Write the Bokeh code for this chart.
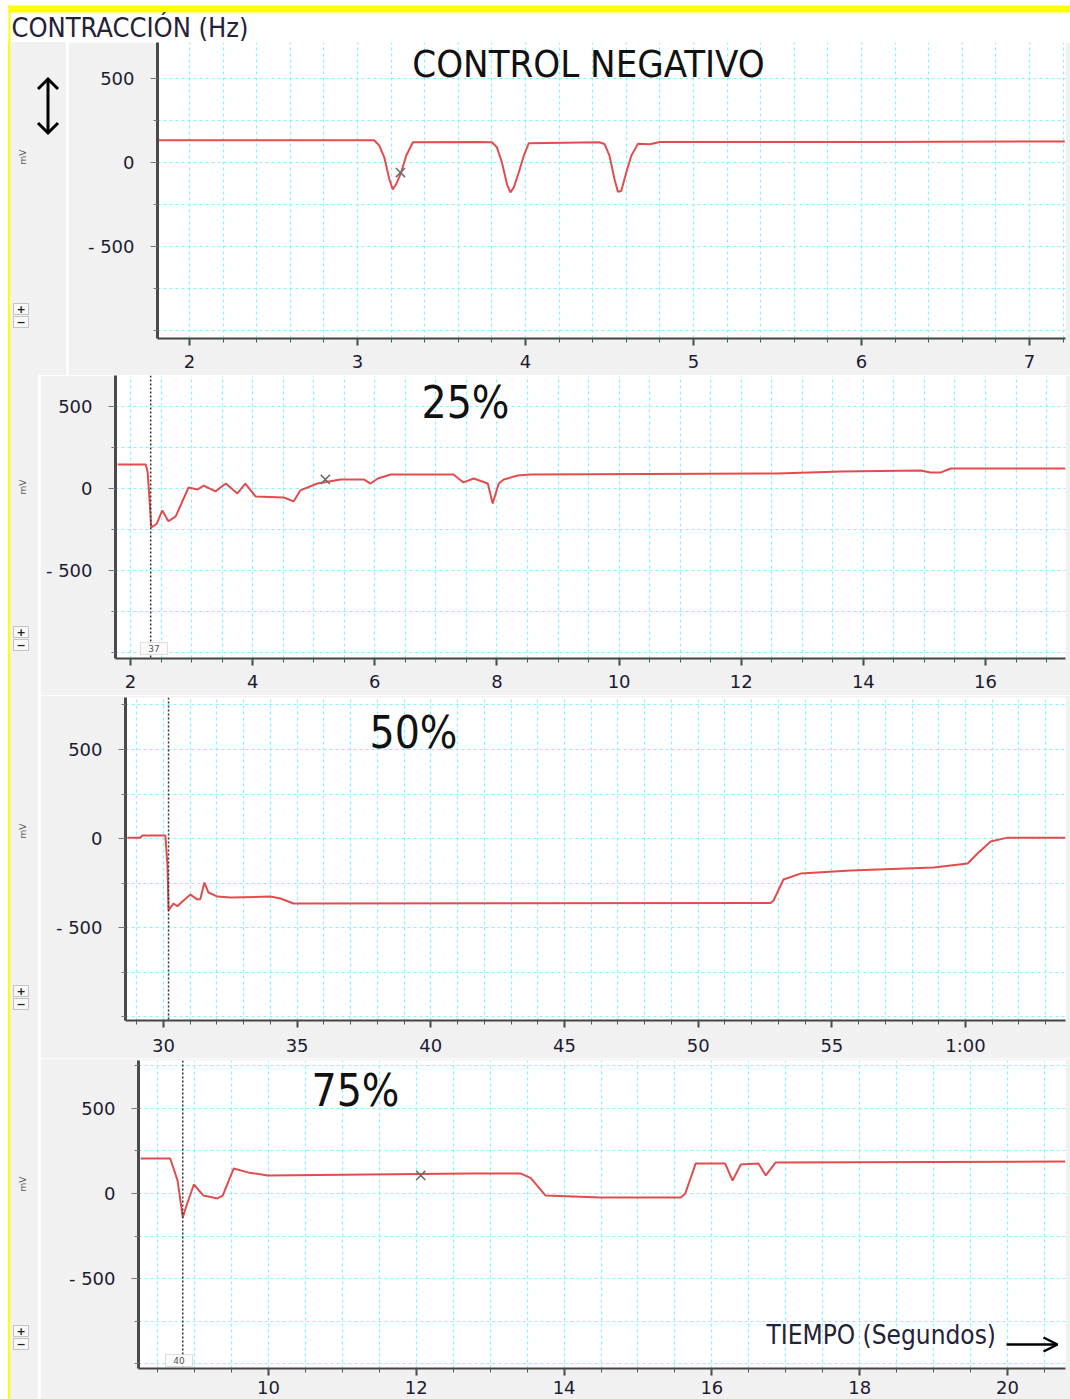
from bokeh.plotting import figure
from bokeh.layouts import column, row
from bokeh.models import (SingleIntervalTicker, FixedTicker, Range1d, BoxAnnotation,
                          Label, Span, Arrow, OpenHead, Div)
from bokeh.embed import file_html
from bokeh.resources import INLINE

# ---------------- data (time in s, signal in mV) ----------------
ctrl_t = [1.81, 3.10, 3.13, 3.16, 3.19, 3.21, 3.23, 3.26, 3.29, 3.33, 3.71, 3.80, 3.83, 3.86,
          3.89, 3.91, 3.93, 3.96, 3.99, 4.02, 4.44, 4.47, 4.50, 4.53, 4.55, 4.57, 4.60, 4.63,
          4.67, 4.74, 4.80, 6.05, 7.21]
ctrl_v = [132, 132, 100, 30, -100, -160, -130, -60, 40, 120, 122, 120, 90, 0,
          -130, -178, -150, -60, 40, 115, 120, 110, 40, -100, -175, -170, -60, 40,
          112, 108, 122, 122, 125]

p25_t = [1.79, 2.25, 2.28, 2.31, 2.34, 2.43, 2.52, 2.62, 2.74, 2.95, 3.10, 3.20, 3.39, 3.56,
         3.75, 3.88, 4.05, 4.51, 4.67, 4.78, 5.06, 5.44, 5.82, 5.93, 6.05, 6.26, 7.29, 7.45,
         7.62, 7.85, 7.93, 8.03, 8.11, 8.34, 8.55, 12.59, 13.63, 14.94, 15.10, 15.26, 15.43, 17.31]
p25_v = [146, 146, 100, -60, -238, -215, -134, -200, -170, 6, -6, 18, -18, 30,
         -30, 30, -49, -55, -79, -12, 30, 55, 55, 30, 61, 85, 85, 37,
         61, 30, -91, 30, 55, 79, 85, 91, 104, 110, 97, 97, 122, 122]

p50_t = [28.65, 29.14, 29.21, 30.07, 30.15, 30.19, 30.37, 30.52, 30.71, 31.01, 31.27, 31.38,
         31.53, 31.68, 32.02, 32.51, 34.00, 34.38, 34.86, 52.71, 52.82, 53.19, 53.83, 55.70,
         58.81, 60.08, 60.45, 60.94, 61.57, 63.74]
p50_v = [5, 5, 17, 17, -150, -404, -365, -380, -354, -315, -343, -340,
         -247, -303, -326, -331, -326, -337, -365, -362, -348, -230, -197, -180,
         -163, -140, -84, -17, 5, 5]

p75_t = [8.27, 8.67, 8.77, 8.84, 8.90, 8.99, 9.12, 9.31, 9.38, 9.53, 9.72, 9.99, 12.73, 13.41,
         13.55, 13.75, 14.49, 15.58, 15.64, 15.78, 16.18, 16.28, 16.39, 16.63, 16.73, 16.86, 20.78]
p75_v = [206, 206, 76, -141, -59, 53, -12, -29, -12, 147, 124, 106, 118, 118,
         90, -12, -24, -24, 0, 176, 176, 76, 170, 176, 106, 182, 188]

marker_t = [3.256, 5.19, None, 12.06]
marker_v = [-60, 55, None, 106]
cursor_t = [None, 2.33, 30.19, 8.84]
cursor_idx = [None, "37", None, "40"]
titles = ["CONTROL NEGATIVO", "25%", "50%", "75%"]
header_text = "CONTRACCI\u00d3N (Hz)"
footer_text = "TIEMPO (Segundos)"
unit_text = "mV"
x_ranges = [(1.81, 7.214), (1.754, 17.31), (28.58, 63.74), (8.241, 20.785)]
y_ranges = [(-1048, 714), (-1037, 689), (-1022, 792), (-1029, 782)]
major_step = [1, 2, 5, 2]
minor_count = [5, 4, 5, 4]
grid_step = [0.2, 0.5, 1.0, 0.5]
series = [(ctrl_t, ctrl_v), (p25_t, p25_v), (p50_t, p50_v), (p75_t, p75_v)]

# ---------------- layout geometry (pixels) ----------------
HEAD_H = 42
geom = [
    dict(H=333, D=68, FL=89, BT=0, BB=37, XS=9, tx=520, ty=21, ts="38px", mv=116, pm=261),
    dict(H=320, D=40, FL=75, BT=0, BB=37, XS=9, tx=425, ty=27, ts="44px", mv=113, pm=251),
    dict(H=363, D=40, FL=85, BT=2, BB=38, XS=7, tx=373, ty=37, ts="44px", mv=137, pm=290),
    dict(H=341, D=40, FL=98, BT=2, BB=31, XS=5, tx=315, ty=32, ts="44px", mv=127, pm=267),
]

CONDENSED = "DejaVu Sans Condensed"
TICKFONT = "DejaVu Sans"
GRID = "#86f1ff"
TRACE = "#e0393b"
GRAY = "#f1f1f1"
YELLOW = "#ffff00"


def to_screen(g, cx, cy):
    fb = g["H"] - g["BB"]
    return cx - g["FL"], fb - cy


def label(p, g, cx, cy, text, size, font=CONDENSED, color="#111", align="left",
          baseline="middle"):
    sx, sy = to_screen(g, cx, cy)
    p.add_layout(Label(x=sx, y=sy, x_units="screen", y_units="screen", text=text,
                       text_font=font, text_font_size=size, text_color=color,
                       text_align=align, text_baseline=baseline))


def side_div(i, g):
    w, h = g["D"], g["H"]
    arrow = ""
    if i == 0:
        arrow = ('<svg style="position:absolute;left:23px;top:34px" width="30" height="60">'
                 '<line x1="15" y1="3" x2="15" y2="57" stroke="black" stroke-width="3"/>'
                 '<polyline points="5,13 15,3 25,13" fill="none" stroke="black" stroke-width="3"/>'
                 '<polyline points="5,47 15,57 25,47" fill="none" stroke="black" stroke-width="3"/>'
                 '</svg>')
    btn = ('position:absolute;left:3px;width:16px;height:12px;border:1px solid #c4c4c4;'
           'background:#f8f8f8;font:bold 11px DejaVu Sans;line-height:12px;'
           'text-align:center;color:#222;')
    html = (f'<div style="position:relative;width:{w - 10}px;height:{h}px;margin-left:8px;'
            f'border-left:2px solid {YELLOW};background:{GRAY};overflow:hidden;">'
            f'{arrow}'
            f'<div style="position:absolute;left:6px;top:{g["mv"] - 6}px;transform:rotate(-90deg);'
            f'font:9px DejaVu Sans;color:#555">{unit_text}</div>'
            f'<div style="{btn}top:{g["pm"]}px">+</div>'
            f'<div style="{btn}top:{g["pm"] + 13}px">\u2212</div>'
            f'</div>')
    return Div(text=html, width=w, height=h, margin=0,
               styles={"background": "#ffffff", "padding": "0px", "margin": "0px"})


# ---------------- header strip ----------------
head = figure(width=1070, height=HEAD_H, x_range=Range1d(0, 1070), y_range=Range1d(HEAD_H, 0),
              output_backend="svg", toolbar_location=None, title=None,
              x_axis_location=None, y_axis_location=None, min_border=0,
              border_fill_color="white", background_fill_color="white",
              outline_line_color=None)
head.grid.visible = False
head.add_layout(BoxAnnotation(left=8, right=1070, top=5, bottom=12, fill_color=YELLOW,
                              fill_alpha=1, line_color=None))
head.add_layout(BoxAnnotation(left=8, right=10, top=5, bottom=HEAD_H, fill_color=YELLOW,
                              fill_alpha=1, line_color=None))
head.add_layout(Label(x=11, y=27, text=header_text, text_font=CONDENSED,
                      text_font_size="27px", text_color="#252238", text_baseline="middle"))

rows = [head]
for i, g in enumerate(geom):
    p = figure(width=1070 - g["D"], height=g["H"], x_range=Range1d(*x_ranges[i]),
               y_range=Range1d(*y_ranges[i]), output_backend="svg", toolbar_location=None,
               title=None, min_border_left=g["FL"], min_border_right=5,
               min_border_top=g["BT"], min_border_bottom=g["BB"],
               border_fill_color=GRAY, background_fill_color="white",
               outline_line_color=None)

    p.xgrid.ticker = SingleIntervalTicker(interval=grid_step[i])
    p.ygrid.ticker = SingleIntervalTicker(interval=250)
    for gr in (p.xgrid, p.ygrid):
        gr.grid_line_color = GRID
        gr.grid_line_dash = "3 3"
        gr.grid_line_width = 1.2

    xa = p.xaxis[0]
    xa.ticker = SingleIntervalTicker(interval=major_step[i], num_minor_ticks=minor_count[i])
    if i == 2:
        xa.major_label_overrides = {60: "1:00"}
    xa.axis_line_color = "#444"
    xa.axis_line_width = 2
    xa.major_tick_line_color = "#444"
    xa.major_tick_line_width = 2
    xa.major_tick_out = 7
    xa.major_tick_in = 0
    xa.minor_tick_line_color = "#555"
    xa.minor_tick_out = 4
    xa.minor_tick_in = 0
    xa.major_label_text_font = TICKFONT
    xa.major_label_text_font_size = "18px"
    xa.major_label_text_color = "#1d1b33"
    xa.major_label_standoff = g["XS"]

    ya = p.yaxis[0]
    ya.ticker = FixedTicker(ticks=[-500, 0, 500], minor_ticks=[-1000, -750, -250, 250, 750])
    ya.major_label_overrides = {-500: "- 500"}
    ya.axis_line_color = "#4a4a4a"
    ya.axis_line_width = 3
    ya.major_tick_line_color = "#777"
    ya.major_tick_out = 7
    ya.major_tick_in = 0
    ya.minor_tick_line_color = "#777"
    ya.minor_tick_out = 4
    ya.minor_tick_in = 0
    ya.major_label_text_font = TICKFONT
    ya.major_label_text_font_size = "18px"
    ya.major_label_text_color = "#1d1b33"
    ya.major_label_standoff = 16

    if cursor_t[i] is not None:
        p.add_layout(Span(location=cursor_t[i], dimension="height", line_color="#333",
                          line_dash="2 2", line_width=1.5))

    t, v = series[i]
    p.line(t, v, line_color=TRACE, line_width=2, line_alpha=0.9)
    if marker_t[i] is not None:
        p.scatter([marker_t[i]], [marker_v[i]], marker="x", size=13,
                  line_color="#6b6b6b", line_width=1.5)

    label(p, g, g["tx"], g["ty"], titles[i], g["ts"], align="center")

    if cursor_idx[i] is not None:
        bx = 100 if i == 1 else 125
        by = 267 if i == 1 else 296
        sl, st = to_screen(g, bx, by)
        sr, sb = to_screen(g, bx + 27, by + 12)
        p.add_layout(BoxAnnotation(left=sl, right=sr, top=st, bottom=sb,
                                   left_units="screen", right_units="screen",
                                   top_units="screen", bottom_units="screen",
                                   fill_color="#fbfbfb", fill_alpha=1, line_color="#999"))
        label(p, g, bx + 13.5, by + 6, cursor_idx[i], "9px", font=TICKFONT, color="#555",
              align="center")

    if i == 3:
        label(p, g, 726, 276, footer_text, "26px", color="#252238")
        ax0, ay = to_screen(g, 966, 286)
        ax1, _ = to_screen(g, 1017, 286)
        p.add_layout(Arrow(x_start=ax0, y_start=ay, x_end=ax1, y_end=ay,
                           start_units="screen", end_units="screen",
                           end=OpenHead(size=14, line_width=2.5, line_color="black"),
                           line_width=2.5, line_color="black"))

    rows.append(row(side_div(i, g), p, spacing=0))

layout = column(*rows, spacing=0)
open("out.html", "w").write(file_html(layout, INLINE))
